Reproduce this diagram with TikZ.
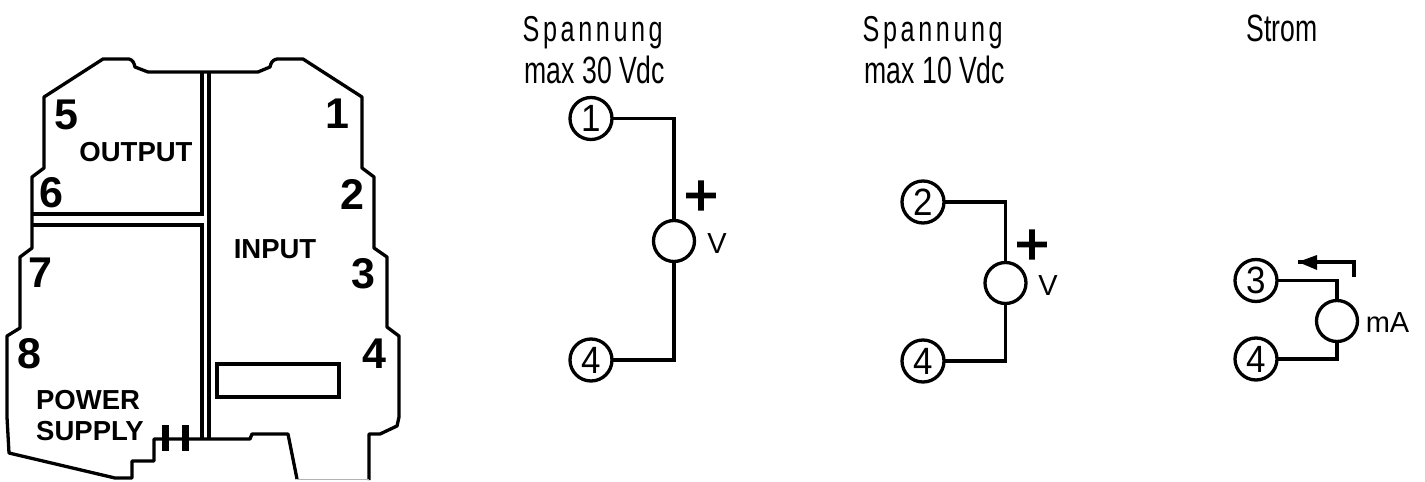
\documentclass[tikz,border=0pt]{standalone}
\usepackage{fontspec}
\setmainfont{Liberation Sans}
\newfontfamily\condfont[FakeStretch=0.7]{Liberation Sans}
\newfontfamily\spacedfont[FakeStretch=0.7,LetterSpace=10]{Liberation Sans}
\newfontfamily\digitfont[FakeStretch=0.92]{Liberation Sans}
\newfontfamily\plusfont[FakeBold=3]{Liberation Sans}
\begin{document}
\begin{tikzpicture}[x=1pt,y=-1pt,line width=3.3pt,
    termnum/.style={font=\fontsize{43}{43}\bfseries\selectfont,inner sep=0pt},
    zonetext/.style={font=\fontsize{27.5}{27.5}\bfseries\selectfont,inner sep=0pt},
    headtext/.style={font=\fontsize{38}{38}\condfont,inner sep=0pt,anchor=base west},
    spacedtext/.style={font=\fontsize{36}{36}\spacedfont,inner sep=0pt,anchor=base west},
    termcircle/.style={draw,circle,minimum size=42pt,inner sep=0pt,outer sep=0pt,font=\fontsize{38}{38}\digitfont},
    metercircle/.style={draw,circle,minimum size=41pt,inner sep=0pt,outer sep=0pt},
    metertext/.style={font=\fontsize{29}{29}\selectfont,inner sep=0pt},
    plustext/.style={font=\fontsize{58}{58}\plusfont,inner sep=0pt}]
    \useasboundingbox (0,0) rectangle (1425,482);
    \draw [line join=round] (297,479) -- (288,434) -- (252,434) -- (250,439) -- (154,439) -- (154,461) -- (132,461) -- (132,478) -- (115,478) -- (9,453) -- (7,417) -- (7,336) -- (20,328) -- (20,257) -- (32,248) -- (32,177) -- (44,168) -- (44,97) -- (103,59) -- (129,59) .. controls (133,60) and (134,63) .. (135,67) -- (148,72) -- (258,72) -- (270,67) .. controls (271,63) and (272,60) .. (277,59) -- (303,59) -- (362,97) -- (362,168) -- (374,177) -- (374,248) -- (387,257) -- (387,327) -- (399,336) -- (399,417) -- (397,426) -- (380,434) -- (369,434) -- (369,480);
    \draw [line width=1pt,gray!60] (297,479) -- (369,479);
    \draw (202,72) -- (202,214) -- (32,214);
    \draw (32,225) -- (202,225) -- (202,439);
    \draw (209,72) -- (209,439);
    \draw (217,364) rectangle (339,397);
    \draw [line width=7pt] (165,425) -- (165,451);
    \draw [line width=7pt] (185,425) -- (185,451);
    \node [termnum] (num5) at (66,115) {5};
    \node [termnum] (num6) at (51,193) {6};
    \node [termnum] (num7) at (40,273) {7};
    \node [termnum] (num8) at (29,354) {8};
    \node [termnum] (num1) at (337,114) {1};
    \node [termnum] (num2) at (352,194) {2};
    \node [termnum] (num3) at (363,274) {3};
    \node [termnum] (num4) at (374,354) {4};
    \node [zonetext] (output) at (136,152) {OUTPUT};
    \node [zonetext] (input) at (275,249) {INPUT};
    \node [zonetext] (power) at (88,400) {POWER};
    \node [zonetext] (supply) at (90,431) {SUPPLY};
    \node [spacedtext] (spanA) at (521,41) {Spannung};
    \node [headtext] (maxA) at (523,83) {max 30 Vdc};
    \node [spacedtext] (spanB) at (861,41) {Spannung};
    \node [headtext] (maxB) at (863,83) {max 10 Vdc};
    \node [headtext] (strom) at (1245,41) {Strom};
    \node [termcircle] (oneA) at (591,118.5) {1};
    \node [termcircle] (fourA) at (591,360) {4};
    \node [metercircle] (meterA) at (674,241) {};
    \node [metertext] (voltA) at (717,244) {V};
    \node [plustext] (plusA) at (701,198) {+};
    \draw (oneA) -| (meterA);
    \draw (meterA) |- (fourA);
    \node [termcircle] (twoB) at (923,202) {2};
    \node [termcircle] (fourB) at (923,361) {4};
    \node [metercircle] (meterB) at (1005.5,283) {};
    \node [metertext] (voltB) at (1048,286) {V};
    \node [plustext] (plusB) at (1032,247) {+};
    \draw (twoB) -| (meterB);
    \draw (meterB) |- (fourB);
    \node [termcircle] (threeC) at (1256,280.5) {3};
    \node [termcircle] (fourC) at (1256,359) {4};
    \node [metercircle] (meterC) at (1337,321) {};
    \node [metertext] (ampC) at (1387.5,323) {mA};
    \draw (threeC) -| (meterC);
    \draw (meterC) |- (fourC);
    \coordinate (arrowStart) at (1354,277);
    \coordinate (arrowTip) at (1298,262);
    \draw (arrowStart) |- (arrowTip);
    \fill (arrowTip) -- (1317,255) -- (1317,270) -- cycle;
\end{tikzpicture}
\end{document}
